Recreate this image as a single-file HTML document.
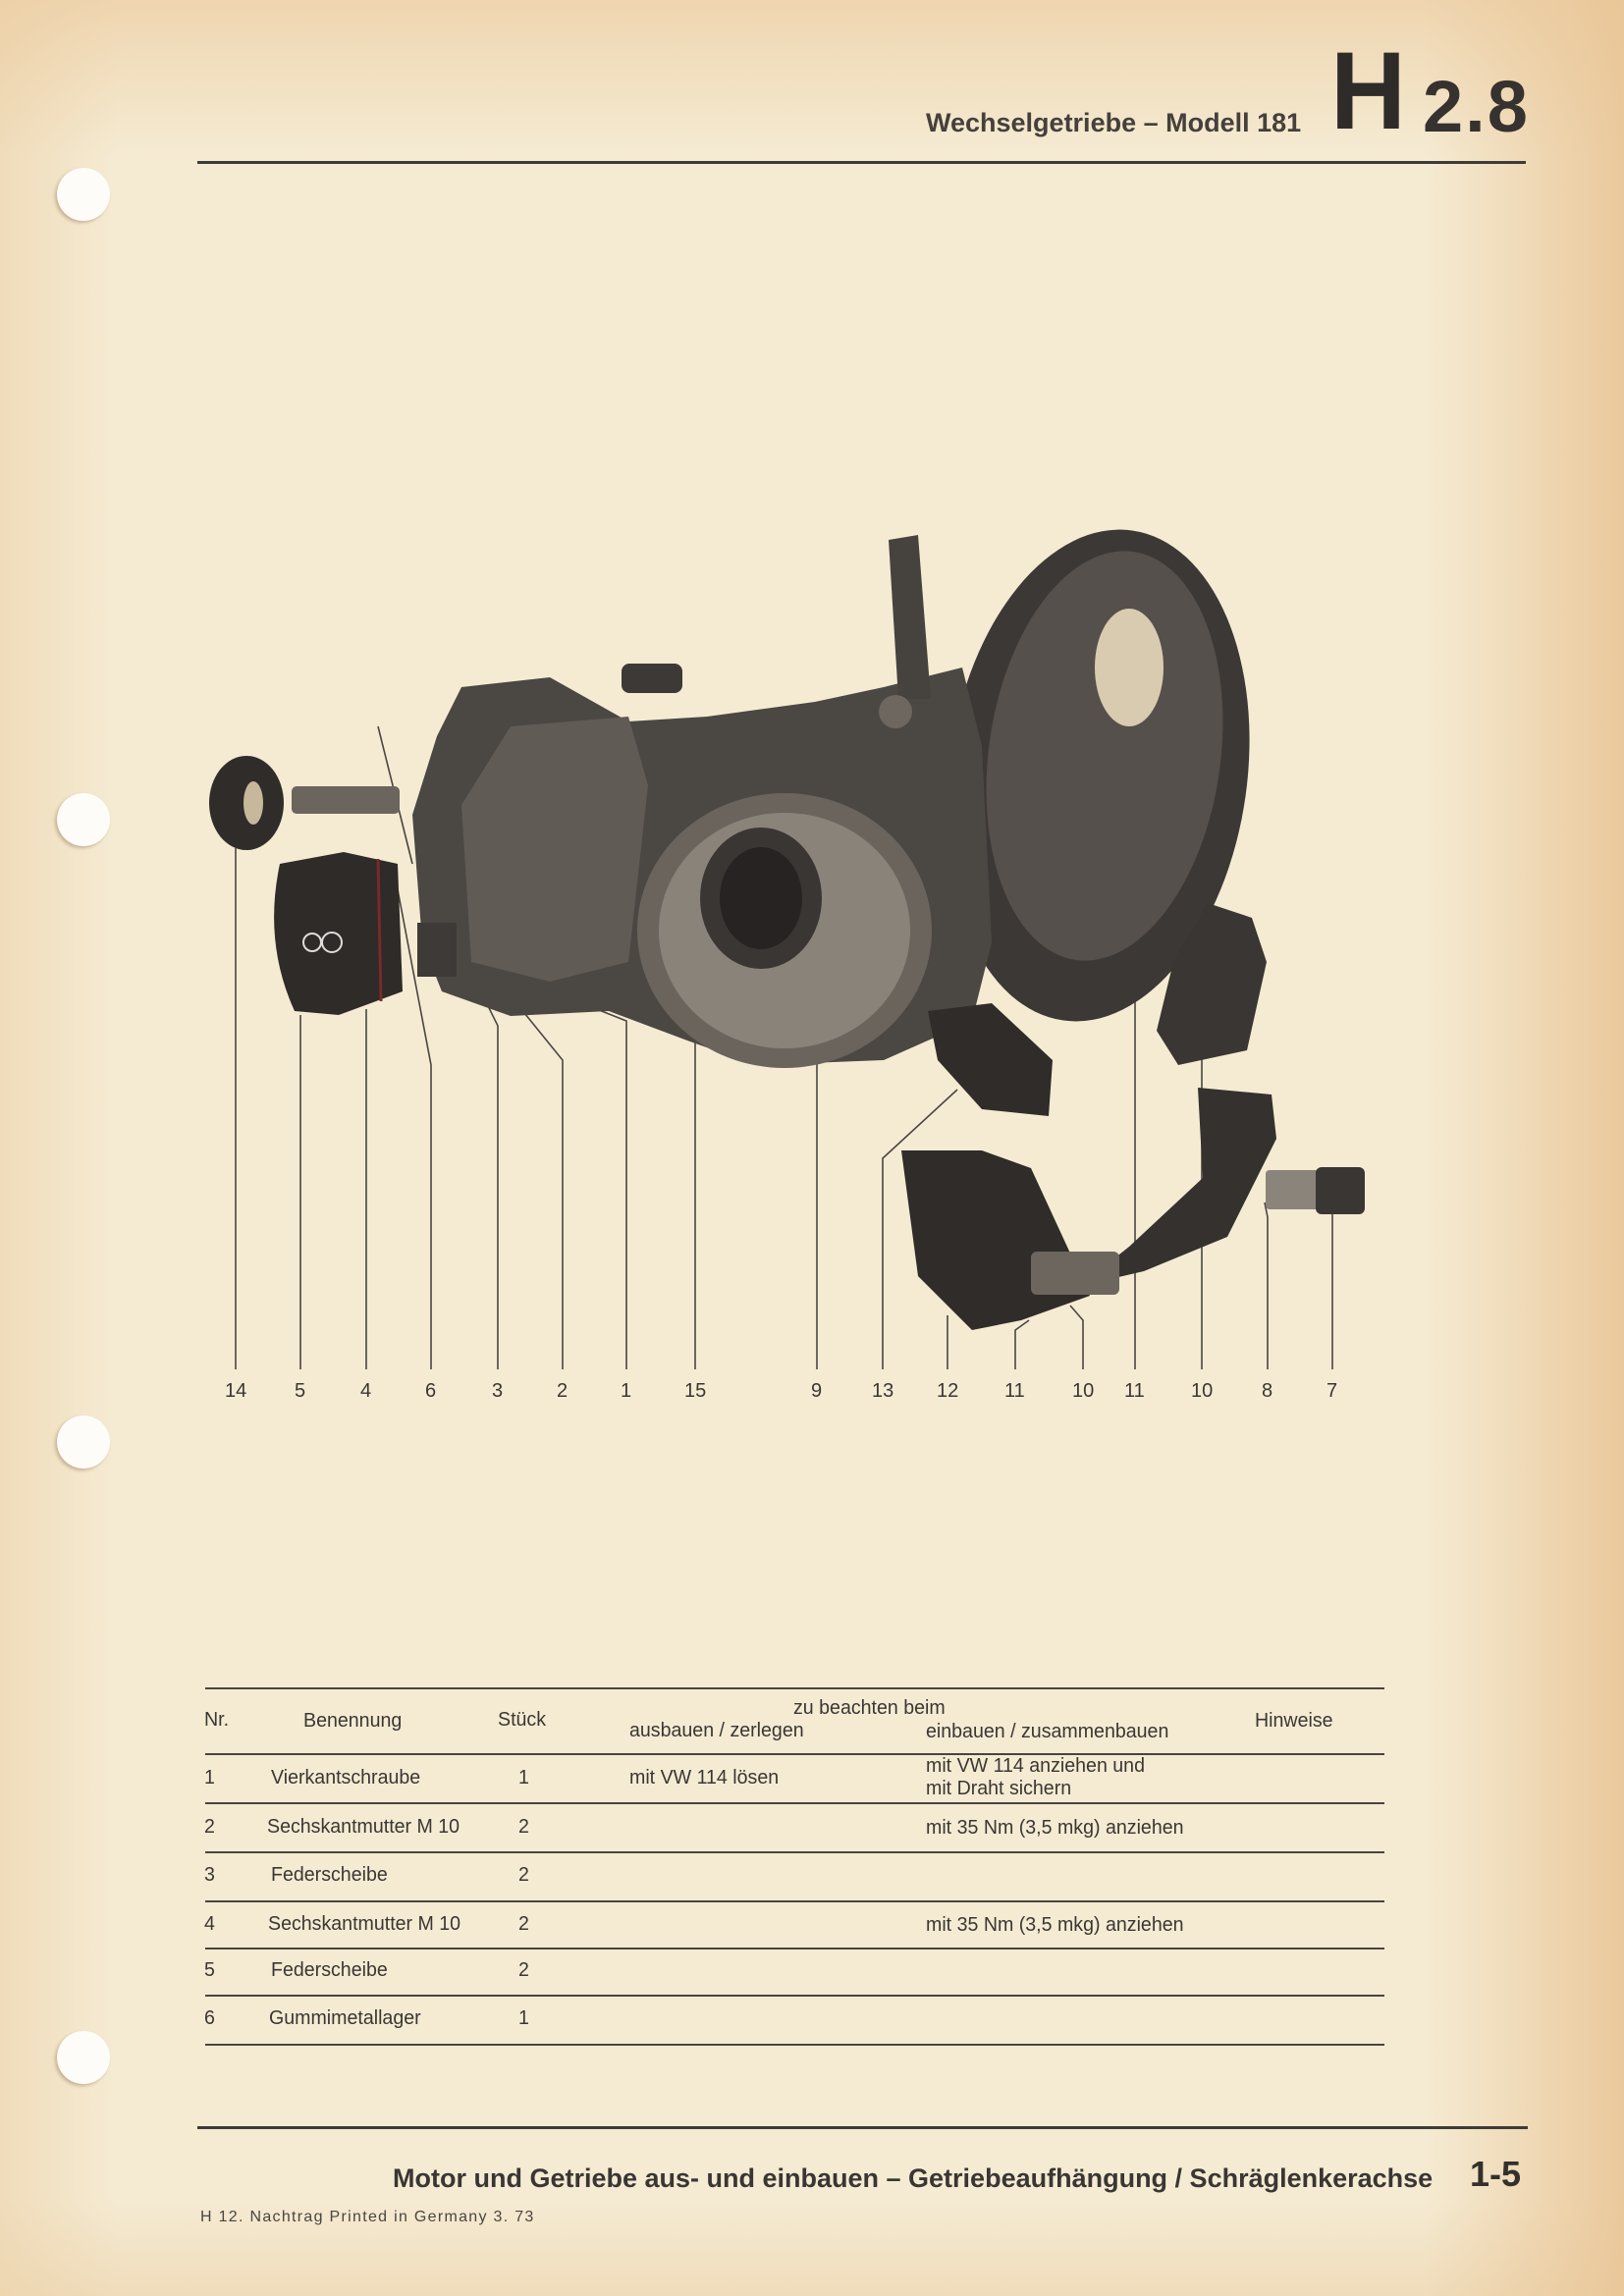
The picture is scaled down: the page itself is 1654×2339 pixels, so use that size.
<!DOCTYPE html>
<html><head><meta charset="utf-8"><style>
html,body{margin:0;padding:0}
body{width:1654px;height:2339px;position:relative;overflow:hidden;font-family:"Liberation Sans",sans-serif;color:#3a3633;
background:
linear-gradient(to right,rgba(233,197,150,0) 1450px,rgba(233,197,150,.9) 1654px),
linear-gradient(to bottom,rgba(236,204,160,.7) 0px,rgba(236,204,160,0) 160px),
linear-gradient(to right,rgba(236,210,170,.6) 0px,rgba(236,210,170,0) 120px),
linear-gradient(to top,rgba(236,210,170,.6) 0px,rgba(236,210,170,0) 100px),
#f5ebd3;}
.t{position:absolute;white-space:nowrap}
.hole{position:absolute;width:54px;height:54px;border-radius:50%;background:#fdfcf8;box-shadow:-2px 2px 3px rgba(120,90,50,.35)}
.hl{position:absolute;left:209px;width:1201px;height:2px;background:#4a4440}
.c{position:absolute;font-size:20px;white-space:nowrap;transform:scaleX(.98);transform-origin:left}
</style></head><body>
<div class="hole" style="left:58px;top:171px"></div>
<div class="hole" style="left:58px;top:808px"></div>
<div class="hole" style="left:58px;top:1442px"></div>
<div class="hole" style="left:58px;top:2069px"></div>

<div class="t" style="left:943px;top:110px;font-size:27px;font-weight:bold;color:#45403c">Wechselgetriebe – Modell 181</div>
<div class="t" style="left:1355px;top:37px;font-size:112px;font-weight:bold;line-height:1;color:#2e2b29;transform:scaleX(.95);transform-origin:left">H</div>
<div class="t" style="left:1449px;top:72px;font-size:74px;font-weight:bold;line-height:1;color:#35322f;letter-spacing:2px">2.8</div>
<div style="position:absolute;left:201px;top:164px;width:1353px;height:3px;background:#3e3a37"></div>

<svg style="position:absolute;left:0;top:0" width="1654" height="2339">
<g fill="none" stroke="#4a4542" stroke-width="1.6">
<line x1="240" y1="864" x2="240" y2="1395"/>
<line x1="306" y1="1034" x2="306" y2="1395"/>
<line x1="373" y1="1028" x2="373" y2="1395"/>
<polyline points="400,880 439,1085 439,1395"/>
<polyline points="475,980 507,1045 507,1395"/>
<polyline points="500,990 573,1080 573,1395"/>
<polyline points="600,1025 638,1040 638,1395"/>
<line x1="708" y1="1000" x2="708" y2="1395"/>
<line x1="832" y1="1050" x2="832" y2="1395"/>
<polyline points="975,1110 899,1180 899,1395"/>
<line x1="965" y1="1340" x2="965" y2="1395"/>
<polyline points="1048,1345 1034,1355 1034,1395"/>
<polyline points="1090,1330 1103,1345 1103,1395"/>
<polyline points="1185,880 1156,910 1156,1395"/>
<line x1="1224" y1="930" x2="1224" y2="1395"/>
<polyline points="1288,1225 1291,1240 1291,1395"/>
<polyline points="1357,1220 1357,1395"/>
<line x1="385" y1="740" x2="420" y2="880"/>
</g>
<ellipse cx="1118" cy="790" rx="152" ry="252" transform="rotate(8 1118 790)" fill="#3c3836"/>
<ellipse cx="1125" cy="770" rx="118" ry="210" transform="rotate(8 1125 770)" fill="#55504b"/>
<ellipse cx="1150" cy="680" rx="35" ry="60" fill="#d9cbb0"/>
<polygon points="470,700 560,690 640,735 720,730 830,715 900,700 980,680 1000,760 1010,960 990,1040 900,1080 770,1085 700,1060 620,1030 520,1035 450,1010 430,960 420,830 445,750" fill="#4b4743"/>
<polygon points="520,740 640,730 660,800 640,980 560,1000 480,980 470,820" fill="#615b55"/>
<rect x="633" y="676" width="62" height="30" rx="8" fill="#3d3936"/>
<ellipse cx="799" cy="948" rx="150" ry="140" fill="#6a645d"/>
<ellipse cx="799" cy="948" rx="128" ry="120" fill="#8a837a"/>
<ellipse cx="775" cy="915" rx="62" ry="72" fill="#3a3633"/>
<ellipse cx="775" cy="915" rx="42" ry="52" fill="#262322"/>
<polygon points="905,550 935,545 948,712 915,712" fill="#46423e"/>
<circle cx="912" cy="725" r="17" fill="#6d675f"/>
<rect x="297" y="801" width="110" height="28" rx="5" fill="#6b655e"/>
<ellipse cx="251" cy="818" rx="38" ry="48" fill="#2f2c2a"/>
<ellipse cx="258" cy="818" rx="10" ry="22" fill="#c7b89c"/>
<path d="M285 880 L350 868 L405 880 L410 1010 L345 1034 L300 1030 Q268 960 285 880Z" fill="#2e2b29"/>
<line x1="385" y1="875" x2="388" y2="1020" stroke="#7a2a2a" stroke-width="3"/>
<circle cx="318" cy="960" r="9" fill="none" stroke="#ddd" stroke-width="2"/>
<circle cx="338" cy="960" r="10" fill="none" stroke="#ddd" stroke-width="2"/>
<rect x="425" y="940" width="40" height="55" fill="#3e3a37"/>
<polygon points="945,1030 1010,1022 1072,1080 1068,1137 1000,1130 955,1080" fill="#2f2c2a"/>
<polygon points="1230,920 1275,935 1290,980 1270,1070 1200,1085 1178,1050 1195,980" fill="#3a3634"/>
<path d="M918 1172 L1000 1172 L1050 1190 L1110 1320 L1040 1345 L990 1355 L935 1300 Z" fill="#2f2c2a"/>
<path d="M1220 1108 L1295 1115 L1300 1160 L1250 1260 L1165 1295 L1100 1310 L1150 1270 L1225 1200 Z" fill="#34312f"/>
<rect x="1050" y="1275" width="90" height="44" rx="6" fill="#6c665f"/>
<rect x="1289" y="1192" width="60" height="40" rx="4" fill="#8b847b"/>
<rect x="1340" y="1189" width="50" height="48" rx="6" fill="#3a3634"/>
</svg>

<div class="t" style="left:229px;top:1406px;font-size:20px">14</div>
<div class="t" style="left:300px;top:1406px;font-size:20px">5</div>
<div class="t" style="left:367px;top:1406px;font-size:20px">4</div>
<div class="t" style="left:433px;top:1406px;font-size:20px">6</div>
<div class="t" style="left:501px;top:1406px;font-size:20px">3</div>
<div class="t" style="left:567px;top:1406px;font-size:20px">2</div>
<div class="t" style="left:632px;top:1406px;font-size:20px">1</div>
<div class="t" style="left:697px;top:1406px;font-size:20px">15</div>
<div class="t" style="left:826px;top:1406px;font-size:20px">9</div>
<div class="t" style="left:888px;top:1406px;font-size:20px">13</div>
<div class="t" style="left:954px;top:1406px;font-size:20px">12</div>
<div class="t" style="left:1023px;top:1406px;font-size:20px">11</div>
<div class="t" style="left:1092px;top:1406px;font-size:20px">10</div>
<div class="t" style="left:1145px;top:1406px;font-size:20px">11</div>
<div class="t" style="left:1213px;top:1406px;font-size:20px">10</div>
<div class="t" style="left:1285px;top:1406px;font-size:20px">8</div>
<div class="t" style="left:1351px;top:1406px;font-size:20px">7</div>

<div class="hl" style="top:1719px"></div>
<div class="hl" style="top:1786px"></div>
<div class="hl" style="top:1836px"></div>
<div class="hl" style="top:1886px"></div>
<div class="hl" style="top:1936px"></div>
<div class="hl" style="top:1984px"></div>
<div class="hl" style="top:2032px"></div>
<div class="hl" style="top:2082px"></div>

<div class="c" style="left:208px;top:1741px">Nr.</div>
<div class="c" style="left:309px;top:1742px">Benennung</div>
<div class="c" style="left:507px;top:1741px">Stück</div>
<div class="c" style="left:808px;top:1729px">zu beachten beim</div>
<div class="c" style="left:641px;top:1752px">ausbauen / zerlegen</div>
<div class="c" style="left:943px;top:1753px">einbauen / zusammenbauen</div>
<div class="c" style="left:1278px;top:1742px">Hinweise</div>

<div class="c" style="left:208px;top:1800px">1</div>
<div class="c" style="left:276px;top:1800px">Vierkantschraube</div>
<div class="c" style="left:528px;top:1800px">1</div>
<div class="c" style="left:641px;top:1800px">mit VW 114 lösen</div>
<div class="c" style="left:943px;top:1788px">mit VW 114 anziehen und</div>
<div class="c" style="left:943px;top:1811px">mit Draht sichern</div>

<div class="c" style="left:208px;top:1850px">2</div>
<div class="c" style="left:272px;top:1850px">Sechskantmutter M 10</div>
<div class="c" style="left:528px;top:1850px">2</div>
<div class="c" style="left:943px;top:1851px">mit 35 Nm (3,5 mkg) anziehen</div>

<div class="c" style="left:208px;top:1899px">3</div>
<div class="c" style="left:276px;top:1899px">Federscheibe</div>
<div class="c" style="left:528px;top:1899px">2</div>

<div class="c" style="left:208px;top:1949px">4</div>
<div class="c" style="left:273px;top:1949px">Sechskantmutter M 10</div>
<div class="c" style="left:528px;top:1949px">2</div>
<div class="c" style="left:943px;top:1950px">mit 35 Nm (3,5 mkg) anziehen</div>

<div class="c" style="left:208px;top:1996px">5</div>
<div class="c" style="left:276px;top:1996px">Federscheibe</div>
<div class="c" style="left:528px;top:1996px">2</div>

<div class="c" style="left:208px;top:2045px">6</div>
<div class="c" style="left:274px;top:2045px">Gummimetallager</div>
<div class="c" style="left:528px;top:2045px">1</div>

<div style="position:absolute;left:201px;top:2166px;width:1355px;height:3px;background:#3e3a37"></div>
<div class="t" style="left:400px;top:2204px;font-size:27px;font-weight:bold;color:#3a3633">Motor und Getriebe aus- und einbauen – Getriebeaufhängung / Schräglenkerachse</div>
<div class="t" style="left:1497px;top:2194px;font-size:36px;font-weight:bold;color:#33302d">1-5</div>
<div class="t" style="left:204px;top:2250px;font-size:16px;letter-spacing:1.3px;color:#4a4542">H 12. Nachtrag Printed in Germany 3. 73</div>
</body></html>
